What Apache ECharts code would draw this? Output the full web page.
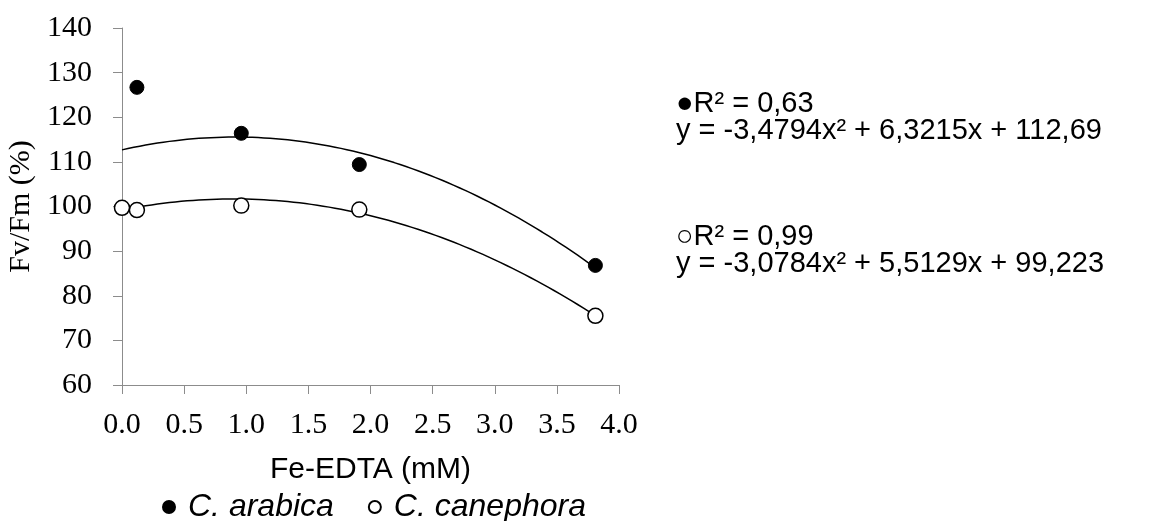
<!DOCTYPE html>
<html>
<head>
<meta charset="utf-8">
<script src="https://cdn.jsdelivr.net/npm/echarts@6/dist/echarts.min.js"></script>
<style>html,body{margin:0;padding:0;background:#fff;}#c{width:1153px;height:521px;}</style>
</head>
<body>
<div id="c"></div>
<script>
// Data
const arabicaX = [0.12, 0.96, 1.91, 3.81];
const arabicaY = [126.7, 116.4, 109.4, 86.8];
const canephoraX = [0, 0.12, 0.96, 1.91, 3.81];
const canephoraY = [99.7, 99.2, 100.2, 99.3, 75.5];
// Polynomial trend coefficients shown on the chart [a, b, c] for y = a x^2 + b x + c
const arabicaCoef = [-3.4794, 6.3215, 112.69];
const canephoraCoef = [-3.0784, 5.5129, 99.223];
const trendRange = [0, 3.81];
const xTicks = ['0.0','0.5','1.0','1.5','2.0','2.5','3.0','3.5','4.0'];
const seriesNames = ['C. arabica', 'C. canephora'];
const eqArabica = ['\u25CFR\u00B2 = 0,63', 'y = -3,4794x\u00B2 + 6,3215x + 112,69'];
const eqCanephora = ['\u25CBR\u00B2 = 0,99', 'y = -3,0784x\u00B2 + 5,5129x + 99,223'];

function trend(coef) {
  const pts = [];
  const n = 80;
  for (let i = 0; i <= n; i++) {
    const x = trendRange[0] + (trendRange[1] - trendRange[0]) * i / n;
    pts.push([x, coef[0] * x * x + coef[1] * x + coef[2]]);
  }
  return pts;
}
const zip = (xs, ys) => xs.map((x, i) => [x, ys[i]]);

const chart = echarts.init(document.getElementById('c'), null, {renderer: 'canvas'});
const axisColor = '#8c8c8c';
chart.setOption({
  animation: false,
  backgroundColor: '#fff',
  grid: {left: 122, right: 534, top: 28, bottom: 136, containLabel: false},
  xAxis: {
    type: 'value', min: 0, max: 4, interval: 0.5,
    axisLine: {show: true, lineStyle: {color: axisColor, width: 1}},
    axisTick: {show: true, length: 9, lineStyle: {color: axisColor}},
    splitLine: {show: false},
    axisLabel: {margin: 25, color: '#000', fontFamily: 'Liberation Serif', fontSize: 30,
      formatter: v => xTicks[Math.round(v / 0.5)]},
    name: 'Fe-EDTA (mM)', nameLocation: 'middle', nameGap: 70,
    nameTextStyle: {color: '#000', fontFamily: 'Liberation Sans', fontSize: 30, verticalAlign: 'top'}
  },
  yAxis: {
    type: 'value', min: 60, max: 140, interval: 10,
    axisLine: {show: true, lineStyle: {color: axisColor, width: 1}},
    axisTick: {show: true, length: 9, lineStyle: {color: axisColor}},
    splitLine: {show: false},
    axisLabel: {margin: 30, color: '#000', fontFamily: 'Liberation Serif', fontSize: 30},
    name: 'Fv/Fm (%)', nameLocation: 'middle', nameGap: 86, nameRotate: 90,
    nameTextStyle: {color: '#000', fontFamily: 'Liberation Serif', fontSize: 30}
  },
  legend: {
    data: seriesNames, left: 157, top: 486, itemGap: 34, itemWidth: 12, itemHeight: 12,
    icon: 'circle',
    textStyle: {color: '#000', fontFamily: 'Liberation Sans', fontStyle: 'italic', fontSize: 32, padding: [0, 0, 0, 8]}
  },
  graphic: [
    {type: 'text', left: 676, top: 89, style: {text: eqArabica.join('\n'), font: '29px "Liberation Sans"', fill: '#000', lineHeight: 27}},
    {type: 'text', left: 676, top: 222, style: {text: eqCanephora.join('\n'), font: '29px "Liberation Sans"', fill: '#000', lineHeight: 27}}
  ],
  series: [
    {name: 'trendA', type: 'line', data: trend(arabicaCoef), showSymbol: false, smooth: false,
      lineStyle: {color: '#000', width: 1.5}, z: 1, silent: true},
    {name: 'trendC', type: 'line', data: trend(canephoraCoef), showSymbol: false, smooth: false,
      lineStyle: {color: '#000', width: 1.5}, z: 1, silent: true},
    {name: seriesNames[0], type: 'scatter', data: zip(arabicaX, arabicaY), symbol: 'circle', symbolSize: 14,
      itemStyle: {color: '#000', borderColor: '#000', borderWidth: 1, opacity: 1}, z: 3},
    {name: seriesNames[1], type: 'scatter', data: zip(canephoraX, canephoraY), symbol: 'circle', symbolSize: 15,
      itemStyle: {color: '#fff', borderColor: '#000', borderWidth: 1.5, opacity: 1}, z: 3}
  ]
});
</script>
</body>
</html>
